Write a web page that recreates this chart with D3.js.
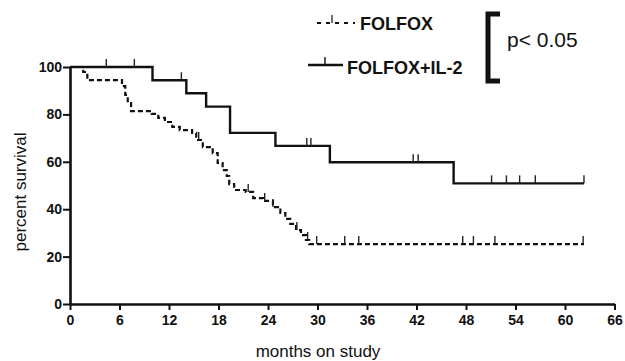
<!DOCTYPE html>
<html>
<head>
<meta charset="utf-8">
<script src="https://cdn.jsdelivr.net/npm/d3@7"></script>
<style>
  body { margin: 0; background: #fff; }
  text { font-family: "Liberation Sans", Arial, sans-serif; fill: #111; }
</style>
</head>
<body>
<svg id="km"></svg>
<script>
// data (months, percent survival)
const xTicks = [0, 6, 12, 18, 24, 30, 36, 42, 48, 54, 60, 66];
const yTicks = [0, 20, 40, 60, 80, 100];

const il2Times    = [0, 10.0, 14.1, 16.5, 19.4, 24.9, 31.5, 46.5, 62.3];
const il2Surv     = [100, 94.4, 88.9, 83.3, 72.2, 66.7, 59.8, 50.9, 50.9];
const il2Censored = [4.4, 7.8, 13.5, 28.7, 29.2, 41.6, 42.2, 51.1, 52.9, 54.5, 56.4, 62.3];

const folTimes = [0, 1.6, 2.1, 6.3, 6.7, 7.0, 7.4, 9.9, 10.7, 11.5, 12.4, 13.3, 14.8, 15.3,
                  16.1, 17.3, 17.9, 18.5, 19.0, 19.3, 19.9, 21.3, 22.2, 23.4, 24.6, 25.5,
                  26.1, 26.7, 27.4, 28.0, 28.6, 29.0, 62.3];
const folSurv  = [100, 97.9, 94.5, 91.9, 88.2, 84.8, 81.4, 80.2, 78.5, 76.8, 74.7, 73.4, 72.2, 69.2,
                  66.2, 63.7, 59.5, 56.5, 54.0, 50.6, 48.1, 47.3, 44.7, 43.5, 40.9, 38.4,
                  35.9, 33.8, 31.2, 29.1, 27.0, 25.3, 25.3];
const folCensored = [15.6, 21.6, 23.6, 24.6, 27.5, 28.8, 29.9, 33.3, 35.0, 47.6, 48.9, 51.5, 62.2];

const W = 625, H = 361;
const svg = d3.select("#km").attr("width", W).attr("height", H);

const x = d3.scaleLinear().domain([0, 66]).range([70, 614.5]);
const y = d3.scaleLinear().domain([0, 100]).range([304, 67]);

// step lookup
function survAt(times, surv, t) {
  let v = surv[0];
  for (let i = 0; i < times.length; i++) if (times[i] <= t) v = surv[i];
  return v;
}

// AXES
const yAxis = svg.append("g")
  .attr("transform", "translate(70,0)")
  .call(d3.axisLeft(y).tickValues(yTicks).tickSize(7).tickSizeOuter(0));
const xAxis = svg.append("g")
  .attr("transform", "translate(0,304)")
  .call(d3.axisBottom(x).tickValues(xTicks).tickSize(6).tickSizeOuter(0));

[yAxis, xAxis].forEach(g => {
  g.select(".domain").attr("stroke", "#111").attr("stroke-width", 2.6);
  g.selectAll(".tick line").attr("stroke", "#111").attr("stroke-width", 2);
  g.selectAll(".tick text")
    .style("font-family", "'Liberation Sans', Arial, sans-serif")
    .style("font-size", "14px").style("font-weight", "bold").attr("fill", "#111");
});
yAxis.selectAll(".tick text").attr("x", -8);
xAxis.selectAll(".tick text").attr("y", 11);

// AXIS LABELS
svg.append("text")
  .attr("transform", "rotate(-90)")
  .attr("x", -192).attr("y", 26)
  .attr("text-anchor", "middle")
  .style("font-size", "17px")
  .text("percent survival");

svg.append("text")
  .attr("x", 318).attr("y", 357)
  .attr("text-anchor", "middle")
  .style("font-size", "17px")
  .text("months on study");

// CURVES
const stepLine = d3.line()
  .x(d => x(d[0]))
  .y(d => y(d[1]))
  .curve(d3.curveStepAfter);

svg.append("path")
  .datum(folTimes.map((t, i) => [t, folSurv[i]]))
  .attr("fill", "none").attr("stroke", "#111")
  .attr("stroke-width", 2.2).attr("stroke-dasharray", "5,3")
  .attr("d", stepLine);

svg.append("path")
  .datum(il2Times.map((t, i) => [t, il2Surv[i]]))
  .attr("fill", "none").attr("stroke", "#111")
  .attr("stroke-width", 2.4)
  .attr("d", stepLine);

// censor ticks
function censor(times, surv, cens) {
  svg.append("g").selectAll("line")
    .data(cens).enter().append("line")
      .attr("x1", d => x(d)).attr("x2", d => x(d))
      .attr("y1", d => y(survAt(times, surv, d)) - 8)
      .attr("y2", d => y(survAt(times, surv, d)))
      .attr("stroke", "#222").attr("stroke-width", 1.4);
}
censor(folTimes, folSurv, folCensored);
censor(il2Times, il2Surv, il2Censored);

// LEGEND
const leg = svg.append("g");
leg.append("line").attr("x1", 317).attr("x2", 355).attr("y1", 23).attr("y2", 23)
  .attr("stroke", "#111").attr("stroke-width", 2.2).attr("stroke-dasharray", "4,5");
leg.append("line").attr("x1", 332).attr("x2", 332).attr("y1", 15).attr("y2", 23)
  .attr("stroke", "#333").attr("stroke-width", 1.4);
leg.append("text").attr("x", 360).attr("y", 29.5)
  .style("font-size", "18px").style("font-weight", "bold").text("FOLFOX");

leg.append("line").attr("x1", 308).attr("x2", 343).attr("y1", 65).attr("y2", 65)
  .attr("stroke", "#111").attr("stroke-width", 2.6);
leg.append("line").attr("x1", 325).attr("x2", 325).attr("y1", 57).attr("y2", 65)
  .attr("stroke", "#111").attr("stroke-width", 1.4);
leg.append("text").attr("x", 347).attr("y", 73.5)
  .style("font-size", "18px").style("font-weight", "bold").text("FOLFOX+IL-2");

// bracket + p value
leg.append("path")
  .attr("d", "M500,14 H488 V81 H500")
  .attr("fill", "none").attr("stroke", "#111").attr("stroke-width", 5);
leg.append("text").attr("x", 507).attr("y", 47)
  .style("font-size", "21px").attr("fill", "#222").text("p< 0.05");
</script>
</body>
</html>
